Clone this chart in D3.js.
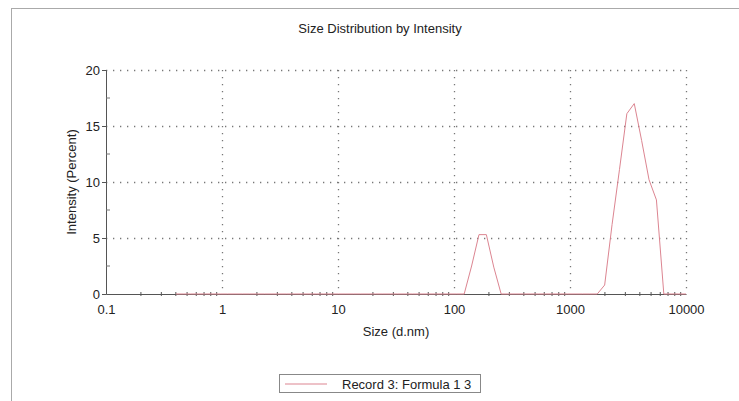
<!DOCTYPE html>
<html>
<head>
<meta charset="utf-8">
<script src="https://cdn.jsdelivr.net/npm/d3@7/dist/d3.min.js"></script>
<style>
  html, body { margin: 0; padding: 0; background: #fff; }
  svg { display: block; font-family: "Liberation Sans", Arial, sans-serif; }
</style>
</head>
<body>
<svg id="chart" width="739" height="401"></svg>
<script>
// Size classes (d.nm) of the distribution
const sizes = [
  0.4, 0.4632, 0.5365, 0.6213, 0.7195, 0.8332, 0.9649, 1.117, 1.294, 1.499,
  1.736, 2.010, 2.328, 2.696, 3.122, 3.615, 4.187, 4.849, 5.615,
  6.503, 7.531, 8.721, 10.10, 11.70, 13.54, 15.69, 18.17, 21.04, 24.36,
  28.21, 32.67, 37.84, 43.82, 50.75, 58.77, 68.06, 78.82, 91.28, 105.7,
  122.4, 141.8, 164.2, 190.1, 220.2, 255.0, 295.3, 342.0, 396.1, 458.7,
  531.2, 615.1, 712.4, 825.0, 955.4, 1106, 1281, 1484, 1718, 1990,
  2305, 2669, 3091, 3580, 4145, 4801, 5560, 6439, 7456, 8635, 10000
];
// Intensity (%) for each size class
const intensity = [
  0, 0, 0, 0, 0, 0, 0, 0, 0, 0,
  0, 0, 0, 0, 0, 0, 0, 0, 0,
  0, 0, 0, 0, 0, 0, 0, 0, 0, 0,
  0, 0, 0, 0, 0, 0, 0, 0, 0, 0,
  0, 2.5, 5.3, 5.3, 2.4, 0, 0, 0, 0, 0,
  0, 0, 0, 0, 0, 0, 0, 0, 0, 0.8,
  6.2, 11.1, 16.1, 17.0, 13.7, 10.2, 8.4, 0, 0, 0, 0
];
const xTicks = [0.1, 1, 10, 100, 1000, 10000];
const xTickLabels = ["0.1", "1", "10", "100", "1000", "10000"];
const yTicks = [0, 5, 10, 15, 20];
const chartTitle = "Size Distribution by Intensity";
const xTitle = "Size (d.nm)";
const yTitle = "Intensity (Percent)";
const seriesName = "Record 3: Formula 1 3";

const svg = d3.select("#chart");
const plotL = 106, plotR = 686, plotT = 70, plotB = 294;
const textColor = "#222";
const lineColor = "#dc8591";

const x = d3.scaleLog().domain([0.1, 10000]).range([plotL, plotR]);
const y = d3.scaleLinear().domain([0, 20]).range([plotB, plotT]);

// outer page frame
svg.append("rect")
  .attr("x", 11.5).attr("y", 8.5).attr("width", 740).attr("height", 400)
  .attr("fill", "none").attr("stroke", "#aaa").attr("stroke-width", 1);

// title
svg.append("text")
  .attr("x", 380).attr("y", 33).attr("text-anchor", "middle")
  .attr("font-size", 13).attr("fill", textColor).text(chartTitle);

// dotted grid: decades and every 5%
const grid = svg.append("g")
  .attr("stroke", "#777").attr("stroke-width", 1.3)
  .attr("stroke-dasharray", "1.3,5.7").attr("fill", "none");
xTicks.slice(1).forEach(v => {
  grid.append("line").attr("x1", Math.round(x(v)) + 0.5).attr("x2", Math.round(x(v)) + 0.5)
    .attr("y1", plotT).attr("y2", plotB);
});
yTicks.slice(1).forEach(v => {
  grid.append("line").attr("x1", plotL).attr("x2", plotR)
    .attr("y1", Math.round(y(v)) + 0.5).attr("y2", Math.round(y(v)) + 0.5);
});

// x axis with minor ticks
const xMinor = [];
for (let d = 0; d < 5; d++) {
  for (let m = 2; m <= 9; m++) xMinor.push(m * Math.pow(10, d - 1));
}
const xAxis = d3.axisBottom(x).tickValues(xTicks).tickFormat((d, i) => xTickLabels[i]).tickSize(0).tickPadding(11);
const gx = svg.append("g").attr("transform", `translate(0,${plotB})`).call(xAxis);
gx.select(".domain").attr("stroke", "#555");
gx.selectAll("text").attr("font-size", 13).attr("fill", textColor)
  .attr("font-family", "Liberation Sans, Arial, sans-serif");
svg.append("g").selectAll("line").data(xMinor).join("line")
  .attr("x1", d => x(d)).attr("x2", d => x(d))
  .attr("y1", plotB - 2).attr("y2", plotB + 2)
  .attr("stroke", "#555").attr("stroke-width", 1);

// y axis with minor ticks
const yAxis = d3.axisLeft(y).tickValues(yTicks).tickSize(4).tickPadding(2);
const gy = svg.append("g").attr("transform", `translate(${plotL},0)`).call(yAxis);
gy.select(".domain").attr("stroke", "#555");
gy.selectAll(".tick line").attr("stroke", "#555");
gy.selectAll("text").attr("font-size", 13).attr("fill", textColor)
  .attr("font-family", "Liberation Sans, Arial, sans-serif");
svg.append("g").selectAll("line").data([2.5, 7.5, 12.5, 17.5]).join("line")
  .attr("x1", plotL).attr("x2", plotL + 4)
  .attr("y1", d => y(d)).attr("y2", d => y(d))
  .attr("stroke", "#777").attr("stroke-width", 1);

// axis titles
svg.append("text")
  .attr("x", (plotL + plotR) / 2).attr("y", 336).attr("text-anchor", "middle")
  .attr("font-size", 13).attr("fill", textColor).text(xTitle);
svg.append("text")
  .attr("transform", `translate(76,${(plotT + plotB) / 2}) rotate(-90)`)
  .attr("text-anchor", "middle")
  .attr("font-size", 13).attr("fill", textColor).text(yTitle);

// distribution curve
const points = sizes.map((s, i) => [s, intensity[i]]);
svg.append("path")
  .datum(points)
  .attr("fill", "none").attr("stroke", lineColor).attr("stroke-width", 1)
  .attr("d", d3.line().x(d => x(d[0])).y(d => y(d[1])));

// legend
const lg = svg.append("g");
lg.append("rect").attr("x", 279.5).attr("y", 374.5).attr("width", 201).attr("height", 18)
  .attr("fill", "#fff").attr("stroke", "#888").attr("stroke-width", 1);
lg.append("line").attr("x1", 285).attr("x2", 327).attr("y1", 384).attr("y2", 384)
  .attr("stroke", lineColor).attr("stroke-width", 1);
lg.append("text").attr("x", 342).attr("y", 388.5)
  .attr("font-size", 13).attr("fill", textColor).text(seriesName);
</script>
</body>
</html>
